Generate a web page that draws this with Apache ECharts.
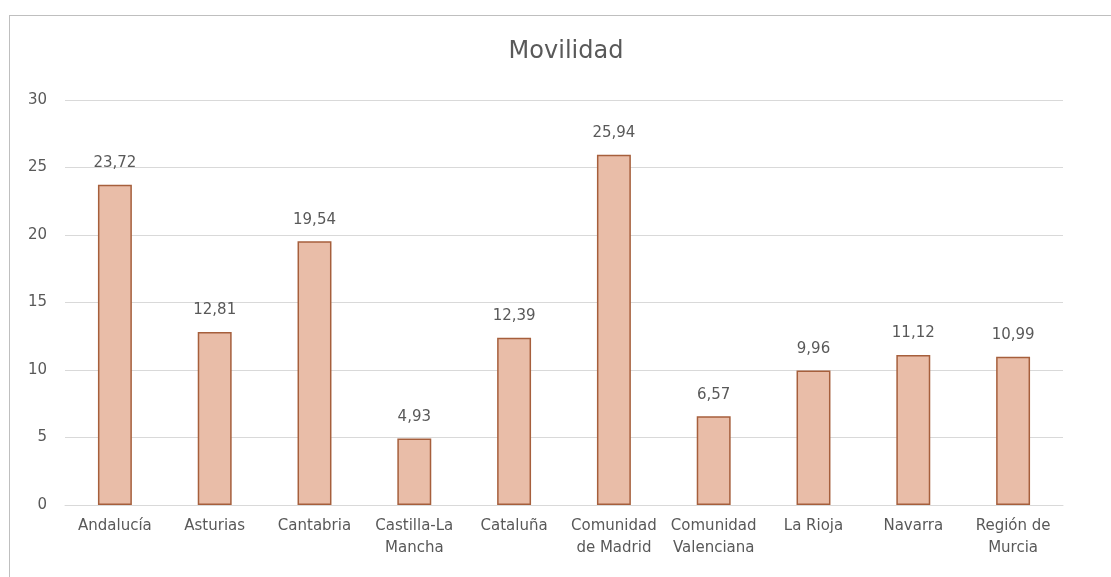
<!DOCTYPE html>
<html>
<head>
<meta charset="utf-8">
<script src="https://cdn.jsdelivr.net/npm/echarts@6/dist/echarts.min.js"></script>
<style>
  html, body { margin: 0; padding: 0; background: #fff; overflow: hidden; }
  #frame {
    position: absolute; left: 9px; top: 15px;
    width: 1120px; height: 600px;
    border: 1px solid #bfbfbf;
  }
  #chart { position: absolute; left: 0; top: 0; width: 1111px; height: 577px; }
</style>
</head>
<body>
<div id="frame"></div>
<div id="chart"></div>
<script>
// datos
const regiones = [
  "Andalucía", "Asturias", "Cantabria", "Castilla-La\nMancha", "Cataluña",
  "Comunidad\nde Madrid", "Comunidad\nValenciana", "La Rioja", "Navarra", "Región de\nMurcia"
];
const movilidad = [23.72, 12.81, 19.54, 4.93, 12.39, 25.94, 6.57, 9.96, 11.12, 10.99];
const ejeY = [0, 5, 10, 15, 20, 25, 30];

const chart = echarts.init(document.getElementById("chart"));
const textColor = "#595959";
const fuente = "DejaVu Sans";

chart.setOption({
  backgroundColor: "transparent",
  animation: false,
  title: {
    text: "Movilidad",
    left: 566,
    top: 40,
    padding: 0,
    textAlign: "center",
    textStyle: { color: textColor, fontSize: 24, fontWeight: "normal", fontFamily: fuente }
  },
  grid: { left: 65, right: 48, top: 100, bottom: 72 },
  xAxis: {
    type: "category",
    data: regiones,
    axisLine: { show: true, lineStyle: { color: "#d9d9d9" } },
    axisTick: { show: false },
    axisLabel: {
      color: textColor, fontSize: 15, fontFamily: fuente,
      lineHeight: 22, margin: 10, interval: 0
    }
  },
  yAxis: {
    type: "value",
    min: ejeY[0],
    max: ejeY[ejeY.length - 1],
    interval: 5,
    axisLine: { show: false },
    axisTick: { show: false },
    axisLabel: { color: textColor, fontSize: 15, fontFamily: fuente, margin: 18 },
    splitLine: { lineStyle: { color: "#d9d9d9" } }
  },
  series: [{
    type: "bar",
    data: movilidad,
    barWidth: "34%",
    itemStyle: { color: "#e9bda8", borderColor: "#a65f3c", borderWidth: 1.5 },
    label: {
      show: true,
      position: "top",
      distance: 14,
      color: textColor,
      fontSize: 15,
      fontFamily: fuente,
      formatter: p => p.value.toFixed(2).replace(".", ",")
    }
  }]
});
</script>
</body>
</html>
